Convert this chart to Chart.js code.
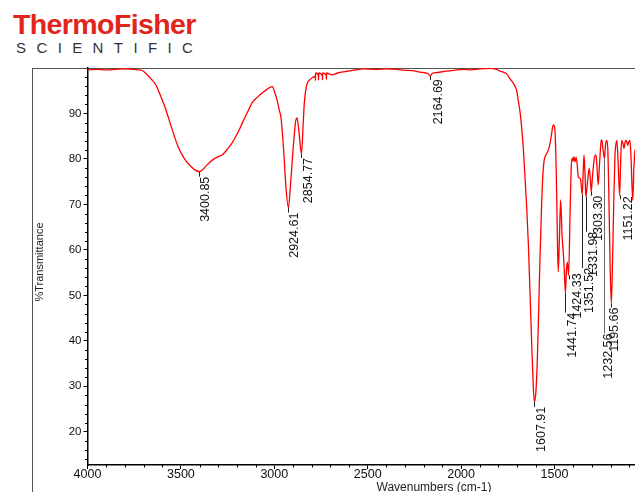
<!DOCTYPE html>
<html>
<head>
<meta charset="utf-8">
<title>Spectrum</title>
<script src="https://cdn.jsdelivr.net/npm/chart.js@4/dist/chart.umd.min.js"></script>
<style>
  html, body { margin: 0; padding: 0; background: #fff; overflow: hidden; }
  #wrap { position: relative; width: 635px; height: 492px; }
  #frame { position: absolute; left: 32px; top: 68px; right: 0; bottom: 0;
           border-left: 1px solid #555; border-top: 1px solid #555; }
  #chart { position: absolute; left: 0; top: 0; }
  .logo-main { position: absolute; left: 13px; top: 10px; font: bold 28.5px "Liberation Sans", Arial, sans-serif;
               line-height: 28px; color: #e1251b; letter-spacing: -0.6px; }
  .logo-sub { position: absolute; left: 16px; top: 40px; font: 15px "Liberation Sans", Arial, sans-serif;
              line-height: 15px; color: #333; letter-spacing: 10.4px; }
</style>
</head>
<body>
<div id="wrap">
  <div class="logo-main">ThermoFisher</div>
  <div class="logo-sub">SCIENTIFIC</div>
  <div id="frame"></div>
  <canvas id="chart" width="635" height="492"></canvas>
</div>
<script>
// --- data ---
const wavenumbers = [
  4000, 3950, 3900, 3850, 3800, 3760, 3730, 3705, 3690, 3678, 3660, 3633, 3610, 3589, 3570, 3553,
  3535, 3517, 3495, 3473, 3450, 3425, 3400.85, 3385, 3360, 3330, 3300, 3276, 3250, 3223, 3195, 3169,
  3140, 3116, 3090, 3062, 3040, 3021, 3010, 3000, 2987, 2973, 2964, 2950, 2938, 2924.61, 2912, 2898,
  2885, 2878, 2868, 2854.77, 2845, 2839, 2827, 2810, 2791, 2781, 2780, 2779, 2764, 2763, 2762, 2743,
  2742, 2741, 2722, 2721, 2720, 2693, 2660, 2622, 2580, 2524, 2450, 2400, 2345, 2300, 2260, 2220,
  2190, 2175, 2164.69, 2155, 2130, 2113, 2080, 2040, 1988, 1950, 1900, 1845, 1810, 1792, 1774, 1756,
  1738, 1720, 1711, 1702, 1694, 1685, 1676, 1667, 1658, 1649, 1640, 1631, 1622, 1614, 1607.91, 1600,
  1592, 1585, 1578, 1570, 1563, 1557, 1551, 1540, 1528, 1518, 1510, 1506, 1501, 1497, 1490, 1485,
  1480, 1474, 1467, 1460, 1454, 1448, 1441.74, 1436, 1431, 1424.33, 1417, 1410, 1405, 1400, 1396, 1390,
  1384, 1378, 1373, 1366, 1360, 1351.52, 1346, 1342, 1336, 1331.98, 1322, 1314, 1308, 1303.30, 1296, 1285,
  1278, 1272, 1266, 1258, 1250, 1247, 1240, 1232.56, 1227, 1221, 1215, 1208, 1202, 1195.66, 1189, 1182,
  1176, 1172, 1166, 1160, 1151.22, 1145, 1140, 1134, 1128, 1123, 1119, 1113, 1108, 1102, 1096, 1090,
  1081, 1075, 1069
];
const transmittance = [
  99.6, 99.7, 99.6, 99.7, 99.8, 99.7, 99.6, 99.4, 98.9, 98.4, 97.6, 96.2, 94.0, 91.8, 89.5, 87.3,
  85.0, 82.9, 81.0, 79.6, 78.5, 77.6, 77.2, 77.6, 78.7, 79.8, 80.5, 81.0, 82.2, 83.7, 85.8, 88.1,
  90.6, 92.5, 93.6, 94.6, 95.3, 95.8, 95.9, 94.9, 93.2, 90.7, 89.0, 82.0, 74.0, 69.3, 75.0, 82.9,
  88.5, 89.0, 86.0, 81.1, 88.0, 92.5, 96.2, 97.4, 98.0, 98.2, 97.3, 98.9, 98.3, 97.4, 98.9, 98.3,
  97.4, 98.9, 98.4, 97.5, 98.9, 98.5, 98.9, 99.2, 99.5, 99.8, 99.7, 99.8, 99.7, 99.5, 99.4, 99.1,
  98.9, 98.7, 98.2, 98.8, 99.0, 99.1, 99.3, 99.5, 99.7, 99.6, 99.8, 99.9, 99.7, 99.3, 99.1, 98.7,
  97.6, 96.6, 95.9, 95.0, 92.9, 90.5, 87.0, 82.5, 76.0, 69.5, 61.4, 50.5, 39.3, 30.5, 26.6, 28.5,
  35.6, 46.0, 57.7, 68.5, 76.0, 79.2, 80.4, 81.3, 82.6, 84.8, 87.0, 87.5, 87.2, 86.0, 76.0, 64.0,
  55.2, 62.0, 71.0, 63.6, 60.0, 56.0, 50.6, 55.5, 57.3, 54.4, 67.2, 78.5, 80.2, 79.5, 80.5, 79.4,
  80.4, 78.5, 76.1, 75.8, 75.4, 72.1, 77.5, 80.9, 76.0, 71.7, 75.5, 77.9, 75.5, 72.8, 76.5, 80.5,
  80.9, 78.0, 74.3, 79.5, 84.0, 84.2, 82.0, 80.1, 83.0, 84.1, 82.5, 70.0, 56.0, 48.2, 58.0, 72.0,
  81.0, 83.0, 84.0, 80.0, 72.0, 80.5, 84.1, 83.5, 82.3, 83.5, 84.1, 83.8, 83.0, 83.8, 84.1, 80.0,
  70.9, 78.0, 82.0
];
const peakWavenumbers = [3400.85, 2924.61, 2854.77, 2164.69, 1607.91, 1441.74, 1424.33,
                         1351.52, 1331.98, 1303.30, 1232.56, 1195.66, 1151.22];
const xTickValues = [4000, 3500, 3000, 2500, 2000, 1500];
const yTickValues = [20, 30, 40, 50, 60, 70, 80, 90];

// label placement (px below the peak, px right of the peak)
const peakLabelDrop = [5, 5, 4, 3, 5, 20, -2, 73, 35, 4, 175, 4, 1];
const peakLabelShift = [6, 6, 7, 8, 7, 7, 8.5, 7.5, 8, 7, 4, 3.5, 9];

const FONT = '"Liberation Sans", Arial, sans-serif';

const spectrumExtras = {
  id: 'spectrumExtras',
  afterDraw(chart) {
    const ctx = chart.ctx;
    const xs = chart.scales.x, ys = chart.scales.y;
    const area = chart.chartArea;
    ctx.save();
    // minor ticks
    ctx.strokeStyle = '#000';
    ctx.lineWidth = 1;
    ctx.beginPath();
    for (let v = 3900; v >= xs.min; v -= 100) {
      if (v % 500 === 0) continue;
      const px = Math.round(xs.getPixelForValue(v)) + 0.5;
      ctx.moveTo(px, area.bottom);
      ctx.lineTo(px, area.bottom + 2.5);
    }
    for (let v = 14; v < ys.max; v += 2) {
      if (v % 10 === 0) continue;
      const py = Math.round(ys.getPixelForValue(v)) + 0.5;
      ctx.moveTo(area.left, py);
      ctx.lineTo(area.left - 2.5, py);
    }
    ctx.stroke();

    // peak markers and labels
    ctx.font = '12.5px ' + FONT;
    ctx.fillStyle = '#111';
    peakWavenumbers.forEach((wn, i) => {
      const idx = wavenumbers.indexOf(wn);
      const px = xs.getPixelForValue(wn);
      const py = ys.getPixelForValue(transmittance[idx]);
      const drop = peakLabelDrop[i];
      ctx.strokeStyle = drop > 100 ? '#666' : '#222';
      ctx.beginPath();
      ctx.moveTo(Math.round(px) + 0.5, py);
      ctx.lineTo(Math.round(px) + 0.5, py + Math.max(drop, 4));
      ctx.stroke();
      ctx.save();
      ctx.translate(px + peakLabelShift[i], py + drop);
      ctx.rotate(-Math.PI / 2);
      ctx.textAlign = 'right';
      ctx.textBaseline = 'middle';
      ctx.fillText(wn.toFixed(2), 0, 0);
      ctx.restore();
    });

    // axis titles
    ctx.fillStyle = '#222';
    ctx.font = '12px ' + FONT;
    ctx.textAlign = 'center';
    ctx.textBaseline = 'middle';
    ctx.fillText('Wavenumbers (cm-1)', 434, 488);
    ctx.save();
    ctx.translate(40, 262);
    ctx.rotate(-Math.PI / 2);
    ctx.font = '11px ' + FONT;
    ctx.fillText('%Transmittance', 0, 0);
    ctx.restore();
    ctx.restore();
  }
};

new Chart(document.getElementById('chart'), {
  type: 'line',
  data: {
    datasets: [{
      data: wavenumbers.map((w, i) => ({ x: w, y: transmittance[i] })),
      borderColor: '#f00',
      borderWidth: 1.3,
      pointRadius: 0,
      fill: false,
      cubicInterpolationMode: 'monotone'
    }]
  },
  options: {
    responsive: false,
    devicePixelRatio: 1,
    animation: false,
    layout: { padding: { top: 68, left: 0, right: 0, bottom: 0 } },
    plugins: { legend: { display: false }, tooltip: { enabled: false } },
    scales: {
      x: {
        type: 'linear',
        reverse: true,
        min: 1069,
        max: 4000,
        afterBuildTicks: s => { s.ticks = xTickValues.map(v => ({ value: v })); },
        afterFit: s => { s.height = 27; },
        ticks: { font: { family: FONT, size: 12.5, lineHeight: 1 }, color: '#111', padding: -1,
                 maxRotation: 0, autoSkip: false, callback: v => String(v) },
        grid: { drawOnChartArea: false, drawTicks: true, tickLength: 4, tickColor: '#000' },
        border: { color: '#000', width: 1.5 }
      },
      y: {
        min: 12.7,
        max: 100,
        afterBuildTicks: s => { s.ticks = yTickValues.map(v => ({ value: v })); },
        afterFit: s => { s.width = 87.5; },
        ticks: { font: { family: FONT, size: 11.5 }, color: '#111', padding: 2, autoSkip: false,
                 callback: v => String(v) },
        grid: { drawOnChartArea: false, drawTicks: true, tickLength: 4, tickColor: '#000' },
        border: { color: '#000', width: 1.5 }
      }
    }
  },
  plugins: [spectrumExtras]
});
</script>
</body>
</html>
